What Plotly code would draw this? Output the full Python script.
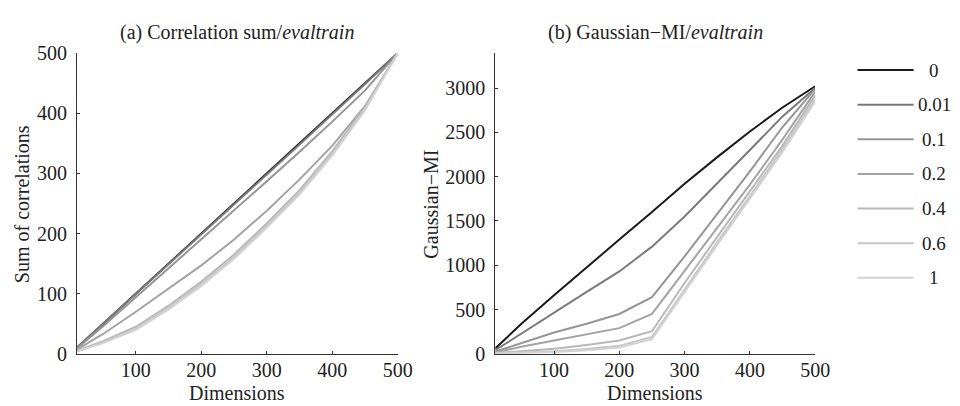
import plotly.graph_objects as go

dims = [10, 50, 100, 150, 200, 250, 300, 350, 400, 450, 500]
labels = ["0", "0.01", "0.1", "0.2", "0.4", "0.6", "1"]
colors = ["#1a1a1a", "#7a7a7a", "#959595", "#a3a3a3", "#b8b8b8", "#c6c6c6", "#d2d2d2"]

corr_0 = [10, 50, 100, 150, 200, 250, 300, 350, 400, 450, 500]
corr_001 = [10, 49.5, 99, 149, 198.5, 248, 298, 348, 398, 448.5, 500]
corr_01 = [9, 46, 94, 142, 190, 238, 287, 336, 386, 438, 500]
corr_02 = [7, 33, 70, 108, 147, 190, 238, 290, 346, 412, 500]
corr_04 = [5, 21, 45, 80, 120, 165, 217, 272, 337, 410, 500]
corr_06 = [4, 19, 42, 77, 116, 161, 213, 268, 333, 407, 500]
corr_1 = [4, 18, 40, 74, 113, 158, 210, 265, 330, 405, 500]

mi_0 = [60, 340, 660, 980, 1290, 1600, 1920, 2220, 2510, 2780, 3020]
mi_001 = [40, 230, 470, 700, 930, 1210, 1550, 1920, 2300, 2680, 3000]
mi_01 = [25, 120, 240, 340, 450, 640, 1100, 1580, 2060, 2560, 2990]
mi_02 = [15, 80, 150, 220, 290, 450, 940, 1430, 1910, 2420, 2960]
mi_04 = [8, 30, 57, 100, 150, 255, 800, 1320, 1830, 2350, 2920]
mi_06 = [5, 15, 30, 55, 90, 190, 730, 1260, 1780, 2310, 2880]
mi_1 = [3, 10, 20, 40, 70, 165, 700, 1230, 1750, 2280, 2850]

corr_series = [corr_0, corr_001, corr_01, corr_02, corr_04, corr_06, corr_1]
mi_series = [mi_0, mi_001, mi_01, mi_02, mi_04, mi_06, mi_1]

FONT = "Liberation Serif"
W, H = 960, 406

fig = go.Figure()
for lab, col, ys in zip(labels, colors, corr_series):
    fig.add_trace(go.Scatter(x=dims, y=ys, mode="lines", name=lab,
                             line=dict(color=col, width=2), showlegend=False,
                             xaxis="x", yaxis="y"))
for lab, col, ys in zip(labels, colors, mi_series):
    fig.add_trace(go.Scatter(x=dims, y=ys, mode="lines", name=lab,
                             line=dict(color=col, width=2), showlegend=False,
                             xaxis="x2", yaxis="y2"))

ydom = [1 - 354 / H, 1 - 36 / H]
axis_common = dict(showgrid=False, zeroline=False, showline=True, linecolor="#333",
                   linewidth=1, ticks="inside", ticklen=3, tickcolor="#333",
                   tickfont=dict(family=FONT, size=20, color="#222"))

fig.update_layout(
    width=W, height=H, margin=dict(l=0, r=0, t=0, b=0),
    plot_bgcolor="white", paper_bgcolor="white",
    font=dict(family=FONT),
    xaxis=dict(domain=[70 / W, 396 / W], range=[10, 500], tickvals=[100, 200, 300, 400, 500],
               anchor="y", ticklabelstandoff=-2, **axis_common),
    yaxis=dict(domain=ydom, range=[0, 500], tickvals=[0, 100, 200, 300, 400, 500],
               anchor="x", ticklabelstandoff=5, **axis_common),
    xaxis2=dict(domain=[495 / W, 820 / W], range=[10, 500], tickvals=[100, 200, 300, 400, 500],
                anchor="y2", ticklabelstandoff=-2, **axis_common),
    yaxis2=dict(domain=ydom, range=[0, 3395], tickvals=[0, 500, 1000, 1500, 2000, 2500, 3000],
                anchor="x2", ticklabelstandoff=5, **axis_common),
)

def ann(x, y, text, size=20, angle=0):
    fig.add_annotation(x=x / W, y=1 - y / H, xref="paper", yref="paper", text=text,
                       showarrow=False, textangle=angle,
                       font=dict(family=FONT, size=size, color="#222"),
                       xanchor="center", yanchor="middle")

# subplot titles
ann((70 + 396) / 2, 14, "(a) Correlation sum/<i>evaltrain</i>")
ann((495 + 820) / 2, 14, "(b) Gaussian\u2212MI/<i>evaltrain</i>")
# axis titles
ann((70 + 396) / 2, 395, "Dimensions")
ann((495 + 820) / 2, 395, "Dimensions")
ann(15, 196, "Sum of correlations", angle=-90)
ann(430, 196, "Gaussian\u2212MI", angle=-90)

# legend (drawn manually to match the reference layout)
for i, (lab, col) in enumerate(zip(labels, colors)):
    yp = 1 - (54 + i * 36.6) / H
    fig.add_shape(type="line", xref="paper", yref="paper", x0=863 / W, x1=920 / W, y0=yp, y1=yp,
                  line=dict(color=col, width=2))
    ann(941, 54 + i * 36.6, lab, size=19)

fig.write_html("out.html")
